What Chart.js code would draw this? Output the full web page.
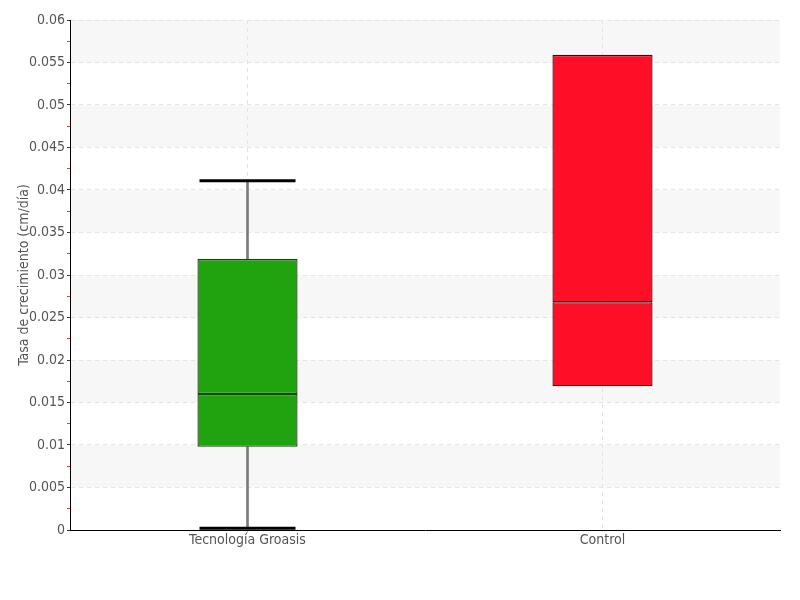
<!DOCTYPE html>
<html>
<head>
<meta charset="utf-8">
<script src="https://cdn.jsdelivr.net/npm/chart.js@4/dist/chart.umd.min.js"></script>
<style>
  html, body { margin: 0; padding: 0; background: #ffffff; }
  #wrap { width: 800px; height: 600px; }
</style>
</head>
<body>
<div id="wrap"><canvas id="c" width="800" height="600"></canvas></div>
<script>
// ---- data ----
const categories = ['Tecnología Groasis', 'Control'];
const mins    = [0.0002, 0.0169];
const q1s     = [0.0098, 0.0169];
const medians = [0.0160, 0.0268];
const q3s     = [0.0319, 0.0559];
const maxs    = [0.0411, 0.0559];
const boxColors = ['#21a30f', '#ff0e28'];
const boxEdgeColors = ['#17470f', '#3a0a10'];
const yTitle = 'Tasa de crecimiento (cm/día)';
const yMin = 0, yMax = 0.06, yMajorStep = 0.005;

// ---- derived structures ----
const lowerWhisker = categories.map((c, i) => mins[i] < q1s[i] ? [mins[i], q1s[i]] : null);
const upperWhisker = categories.map((c, i) => maxs[i] > q3s[i] ? [q3s[i], maxs[i]] : null);
const lowerBox = categories.map((c, i) => [q1s[i], medians[i]]);
const upperBox = categories.map((c, i) => [medians[i], q3s[i]]);
const lowCaps  = categories.map((c, i) => mins[i] < q1s[i] ? mins[i] : null);
const highCaps = categories.map((c, i) => maxs[i] > q3s[i] ? maxs[i] : null);

const FONT = "'DejaVu Sans Condensed', 'Liberation Sans Narrow', sans-serif";
const isMinor = v => Math.round(v / (yMajorStep / 2)) % 2 === 1;

const bandPlugin = {
  id: 'bands',
  beforeDraw(chart) {
    const y = chart.scales.y, a = chart.chartArea, ctx = chart.ctx;
    ctx.save();
    ctx.fillStyle = '#f7f7f7';
    const n = Math.round((yMax - yMin) / yMajorStep);
    for (let k = 0; k < n; k++) {
      if ((n - 1 - k) % 2 !== 0) continue;
      const v0 = yMin + k * yMajorStep, v1 = v0 + yMajorStep;
      const p0 = y.getPixelForValue(v0), p1 = y.getPixelForValue(v1);
      ctx.fillRect(a.left, p1, a.right - a.left, p0 - p1);
    }
    ctx.restore();
  }
};

const capStyle = {
  type: 'line', showLine: false, pointStyle: 'line', pointRadius: 48, pointHoverRadius: 48,
  borderColor: '#000', pointBorderColor: '#000', pointBorderWidth: 3, borderWidth: 3, clip: false
};
const boxStyle = {
  backgroundColor: boxColors, borderColor: boxEdgeColors, borderWidth: 1.3,
  borderSkipped: false, grouped: false, categoryPercentage: 1.0, barPercentage: 0.282
};
const whiskerStyle = {
  backgroundColor: '#7a7a7a', borderWidth: 0, grouped: false, barThickness: 2
};

new Chart(document.getElementById('c'), {
  type: 'bar',
  data: {
    labels: categories,
    datasets: [
      Object.assign({ label: 'cap low',  data: lowCaps }, capStyle),
      Object.assign({ label: 'cap high', data: highCaps }, capStyle),
      Object.assign({ label: 'box low',  data: lowerBox }, boxStyle),
      Object.assign({ label: 'box high', data: upperBox }, boxStyle),
      Object.assign({ label: 'whisker low',  data: lowerWhisker }, whiskerStyle),
      Object.assign({ label: 'whisker high', data: upperWhisker }, whiskerStyle)
    ]
  },
  options: {
    responsive: false,
    animation: false,
    events: [],
    layout: { autoPadding: false, padding: { top: 20, right: 20, left: 0, bottom: 0 } },
    plugins: { legend: { display: false }, tooltip: { enabled: false } },
    scales: {
      x: {
        offset: true,
        border: { display: true, color: '#000', width: 1, dash: [4, 4] },
        grid: {
          offset: false, color: '#e4e4e4', lineWidth: 1,
          drawTicks: true, tickLength: 2, tickColor: '#cccccc'
        },
        ticks: { color: '#555', font: { family: FONT, size: 14 }, padding: 0, maxRotation: 0 },
        afterFit(s) { s.height = 70; }
      },
      y: {
        min: yMin, max: yMax,
        border: { display: true, color: '#000', width: 1, dash: [4, 4] },
        grid: {
          color: ctx => isMinor(ctx.tick.value) ? 'rgba(0,0,0,0)' : '#e4e4e4',
          lineWidth: 1,
          drawTicks: true, tickLength: 3,
          tickColor: ctx => isMinor(ctx.tick.value) ? '#ff3030' : '#333333',
          tickWidth: 1
        },
        ticks: {
          stepSize: yMajorStep / 2, autoSkip: false, color: '#555',
          font: { family: FONT, size: 14 }, padding: 2,
          callback: v => isMinor(v) ? '' : String(Number(v.toFixed(4)))
        },
        title: {
          display: true, text: yTitle, color: '#555',
          font: { family: FONT, size: 14 }, padding: { top: 16, bottom: 0 }
        },
        afterFit(s) { s.width = 70; }
      }
    }
  },
  plugins: [bandPlugin]
});
</script>
</body>
</html>
